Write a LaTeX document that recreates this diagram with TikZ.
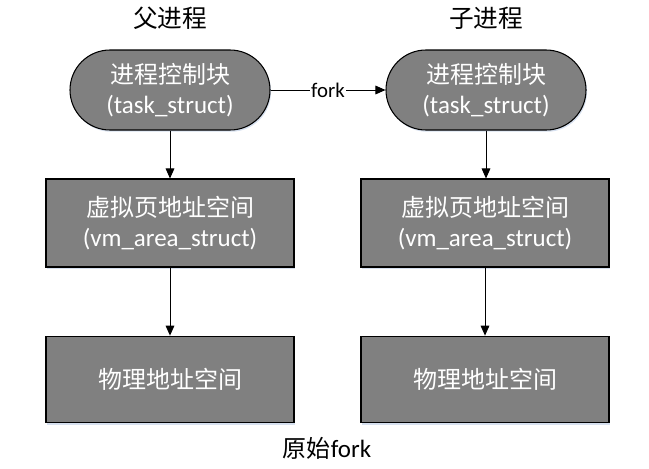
\documentclass[tikz,border=0pt]{standalone}
\usepackage{fontspec}
\setmainfont{Carlito}[Scale=1.04]
\newfontfamily\cjk{Noto Sans CJK SC}
\usetikzlibrary{arrows.meta,shadows}
\definecolor{boxgray}{HTML}{808080}
\definecolor{shadowblue}{HTML}{C5D3E8}
\begin{document}
\begin{tikzpicture}[x=0.75pt,y=-0.75pt,
 boxbase/.style={draw=black, line width=0.8pt, fill=boxgray, text=white, align=center,
   font=\fontsize{18}{22.5}\selectfont, inner sep=0pt,
   drop shadow={shadow xshift=0.8pt,shadow yshift=-1.3pt,fill=shadowblue,opacity=0.7}},
 pill/.style={boxbase, rounded corners=30pt, minimum width=150pt, minimum height=60pt},
 rectbox/.style={boxbase, minimum width=186pt, minimum height=66pt},
 arr/.style={-{Triangle[length=7.5pt,width=6.5pt]}, line width=0.75pt},
 head/.style={font=\fontsize{18.5}{22}\selectfont, inner sep=0pt}
]
\useasboundingbox (0,0) rectangle (649,468);
\node[head] (h1) at (170,18) {\cjk 父进程};
\node[head] (h2) at (486,18) {\cjk 子进程};
\node[pill] (pcb1) at (170,90) {{\cjk 进程控制块}\\(task\_struct)};
\node[pill] (pcb2) at (486,90) {{\cjk 进程控制块}\\(task\_struct)};
\node[rectbox] (vm1) at (170,223) {{\cjk 虚拟页地址空间}\\(vm\_area\_struct)};
\node[rectbox] (vm2) at (485,223) {{\cjk 虚拟页地址空间}\\(vm\_area\_struct)};
\node[rectbox, minimum height=65pt] (pm1) at (170,379.5) {\cjk 物理地址空间};
\node[rectbox, minimum height=65pt] (pm2) at (485,379.5) {\cjk 物理地址空间};
\draw[arr] (pcb1) -- (vm1);
\draw[arr] (vm1) -- (pm1);
\draw[arr] (pcb2.south) -- (vm2.north -| pcb2.south);
\draw[arr] (vm2) -- (pm2);
\draw[arr] (pcb1) -- node[fill=white, inner sep=1pt, font=\fontsize{15}{18}\selectfont] (forklbl) {fork} (pcb2);
\node[fill=white, minimum width=172pt, minimum height=34pt, inner sep=0pt,
  font=\fontsize{18}{22}\selectfont] (cap) at (327,448) {{\cjk 原始}fork};
\end{tikzpicture}
\end{document}
